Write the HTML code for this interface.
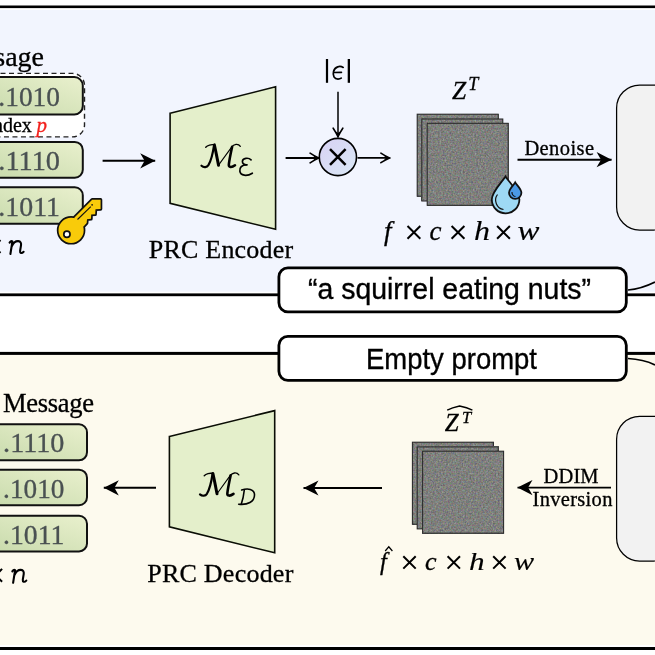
<!DOCTYPE html>
<html><head><meta charset="utf-8">
<style>
html,body{margin:0;padding:0;background:#fff;width:655px;height:655px;overflow:hidden}
svg{display:block;will-change:transform}
.serif{font-family:"Liberation Serif",serif;stroke:#000;stroke-width:0.3px}
.sans{font-family:"Liberation Sans",sans-serif}
</style></head><body>
<svg width="655" height="655" viewBox="0 0 655 655">
<defs>
 <linearGradient id="gbox" x1="0" y1="1" x2="1" y2="0">
  <stop offset="0" stop-color="#c6d9aa"/>
  <stop offset="1" stop-color="#e9f0cd"/>
 </linearGradient>
 <linearGradient id="circ" x1="0" y1="0" x2="1" y2="1">
  <stop offset="0" stop-color="#d8d1f4"/>
  <stop offset="1" stop-color="#dae9f6"/>
 </linearGradient>
 <filter id="noise" x="0" y="0" width="100%" height="100%" filterUnits="objectBoundingBox" color-interpolation-filters="sRGB">
  <feTurbulence type="fractalNoise" baseFrequency="0.6" numOctaves="2" seed="5" result="t"/>
  <feColorMatrix in="t" type="matrix" values="0.34 0.08 0.08 0 0.245  0.08 0.34 0.08 0 0.25  0.08 0.08 0.34 0 0.24  0 0 0 0 1"/>
  <feGaussianBlur stdDeviation="0.45"/>
 </filter>
 <marker id="st" viewBox="-16 -8 17 16" refX="0" refY="0" markerWidth="17" markerHeight="16" orient="auto" markerUnits="userSpaceOnUse">
  <path d="M0,0 L-15,-7.6 L-10.6,0 L-15,7.6 z" fill="#000"/>
 </marker>
 <marker id="to" viewBox="-11 -6 12 12" refX="0" refY="0" markerWidth="12" markerHeight="12" orient="auto" markerUnits="userSpaceOnUse">
  <path d="M-8.6,-4.8 Q-3.8,-1.6 0,0 Q-3.8,1.6 -8.6,4.8" fill="none" stroke="#000" stroke-width="1.6" stroke-linecap="round"/>
  <path d="M0.3,0 L-5.6,-2.7 L-3.8,0 L-5.6,2.7 z" fill="#000"/>
 </marker>

</defs>

<!-- panels -->
<rect x="0" y="10" width="655" height="281.7" fill="#f2f5fe"/>
<rect x="0" y="355" width="655" height="290" fill="#fdfaee"/>
<rect x="0" y="5.5" width="655" height="2.6" fill="#000"/>
<rect x="0" y="293.4" width="655" height="2.8" fill="#000"/>
<rect x="0" y="351.9" width="655" height="3" fill="#000"/>
<rect x="0" y="647" width="655" height="3" fill="#000"/>

<!-- ===== TOP PANEL ===== -->
<text x="44" y="65.5" class="serif" font-size="28" text-anchor="end" fill="#000">Message</text>
<!-- dashed box -->
<rect x="-20" y="73.4" width="104.5" height="63.5" rx="12" fill="#fff" stroke="#222" stroke-width="1.4" stroke-dasharray="5,3.5"/>
<!-- green boxes -->
<rect x="-20" y="77.1" width="102.8" height="37.4" rx="8.5" fill="url(#gbox)" stroke="#111" stroke-width="2"/>
<rect x="-20" y="141.9" width="102.8" height="35.8" rx="8" fill="url(#gbox)" stroke="#111" stroke-width="2"/>
<rect x="-20" y="187.3" width="102.8" height="36.4" rx="8" fill="url(#gbox)" stroke="#111" stroke-width="2"/>
<g class="serif" font-size="26.5" fill="#4a5152" text-anchor="end" style="stroke:#4a5152">
 <text x="60" y="105.5" textLength="61.7" lengthAdjust="spacingAndGlyphs">.1010</text>
 <text x="60" y="169.5" textLength="61.7" lengthAdjust="spacingAndGlyphs">.1110</text>
 <text x="60" y="215.8" textLength="61.7" lengthAdjust="spacingAndGlyphs">.1011</text>
</g>
<text x="31.8" y="131.8" class="serif" font-size="20" fill="#000" text-anchor="end">index</text>
<text x="36.5" y="131.8" class="serif" font-size="21" font-style="italic" fill="#f2201c" style="stroke:#f2201c">p</text>
<path d="M9.6,242.6 C10.4,241.4 11.6,240.8 12.4,241.3 L10.4,254 M11.8,246.2 C13.4,242.6 15.8,241 18.2,241.1 C20.6,241.3 21.4,243 21,245.4 L20.1,250.8 C19.8,253 21.6,253.9 23.6,251.8" fill="none" stroke="#000" stroke-width="2.1" stroke-linecap="round" stroke-linejoin="round"/>
<path d="M-12.3,240.1 L0.5,252.9 M0.5,240.1 L-12.3,252.9" stroke="#000" stroke-width="2"/>

<!-- key -->
<g>
 <path d="M58.5,230.3 A12.6,12.6 0 1 1 83.7,230.3 A12.6,12.6 0 1 1 58.5,230.3 Z M74.5,217.5 L92.2,199.8 L100.6,199.8 L100.6,209 L95.5,209.3 L95.2,214.3 L91.2,214.6 L91,218.8 L87,219.2 L86.7,223 L83,227 L72,228 z" stroke="#111" stroke-width="3.4" stroke-linejoin="round" fill="#111"/>
 <path d="M58.5,230.3 A12.6,12.6 0 1 1 83.7,230.3 A12.6,12.6 0 1 1 58.5,230.3 Z M74.5,217.5 L92.2,199.8 L100.6,199.8 L100.6,209 L95.5,209.3 L95.2,214.3 L91.2,214.6 L91,218.8 L87,219.2 L86.7,223 L83,227 L72,228 z" fill="#f9cb0a"/>
 <circle cx="66.9" cy="234.2" r="3.1" fill="#fff" stroke="#111" stroke-width="1.7"/>
 <path d="M77.5,219.5 L90.8,206.6" stroke="#111" stroke-width="1.1"/>
 <circle cx="92.1" cy="204.8" r="0.85" fill="#111"/>
</g>

<!-- arrow to encoder -->
<line x1="102.6" y1="160.8" x2="155.2" y2="160.8" stroke="#000" stroke-width="1.9" marker-end="url(#st)"/>

<!-- encoder -->
<polygon points="170.1,113.2 275.6,86.8 275.6,229.3 170.1,203.3" fill="#e4efcb" stroke="#0a0d05" stroke-width="1.6"/>
<g transform="translate(196.5,136.4) scale(0.0992)" fill="none" stroke="#000" stroke-linecap="round">
  <path d="M93,109 C110,90 150,78 177,85" stroke-width="14"/>
  <path d="M177,88 C168,150 150,240 120,290 C105,312 75,318 50,296" stroke-width="22"/>
  <path d="M180,85 C195,150 210,230 222,290" stroke-width="30"/>
  <path d="M222,290 L356,105" stroke-width="11"/>
  <path d="M359,105 C345,170 330,240 326,285 C324,312 352,318 388,291" stroke-width="26"/>
  <path d="M356,106 C375,78 420,68 442,100" stroke-width="13"/>
 </g>
<g transform="translate(195,135) scale(0.0992)" fill="none" stroke="#000" stroke-linecap="round" stroke-width="17">
 <path d="M565,250 C540,225 480,230 478,265 C476,290 500,302 522,300"/>
 <path d="M522,300 C470,300 448,330 452,365 C458,410 522,420 578,385"/>
</g>
<text x="148.8" y="258" class="serif" font-size="26" fill="#000" textLength="144.4">PRC Encoder</text>

<!-- epsilon & multiply -->
<rect x="325.9" y="59" width="2.2" height="23.8" fill="#000"/>
<rect x="347.7" y="59" width="2.3" height="23.8" fill="#000"/>
<path d="M343.2,67.4 C340,65.6 335,66.3 333.6,71.3 C332.4,75.8 334.3,79 338,79 C339.4,79 340.5,78.6 341.2,78.1 M333.8,72.5 L341.4,72.3" fill="none" stroke="#000" stroke-width="1.75" stroke-linecap="round"/>
<line x1="338" y1="91.7" x2="338" y2="136.8" stroke="#000" stroke-width="1.5" marker-end="url(#to)"/>
<line x1="285.6" y1="158" x2="318.7" y2="158" stroke="#000" stroke-width="1.8" marker-end="url(#to)"/>
<line x1="357.5" y1="157.9" x2="389.5" y2="157.9" stroke="#000" stroke-width="1.9" marker-end="url(#to)"/>
<circle cx="337.9" cy="157" r="18.6" fill="url(#circ)" stroke="#000" stroke-width="1.6"/>
<path d="M330,149.2 L345.6,164.8 M345.6,149.2 L330,164.8" stroke="#000" stroke-width="2.5"/>

<!-- Z^T -->
<text x="452" y="99" class="serif" font-size="25.5" font-style="italic" fill="#000">Z</text>
<text x="468.3" y="90" class="serif" font-size="18.2" font-style="italic" fill="#000">T</text>
<!-- noise squares -->
<rect x="417.2" y="114.2" width="81" height="82" fill="#fff" filter="url(#noise)"/>
<rect x="417.2" y="114.2" width="81" height="82" fill="none" stroke="#2a2a2a" stroke-width="1.05"/>
<rect x="421.8" y="119" width="81" height="82" fill="#fff" filter="url(#noise)"/>
<rect x="421.8" y="119" width="81" height="82" fill="none" stroke="#2a2a2a" stroke-width="1.05"/>
<rect x="427.2" y="123.3" width="81" height="82" fill="#fff" filter="url(#noise)"/>
<rect x="427.2" y="123.3" width="81" height="82" fill="none" stroke="#2a2a2a" stroke-width="1.05"/>
<!-- drops -->
<path d="M505.5,176.5 C509,182 519.4,192 519.4,199.5 A13.8,13.8 0 0 1 491.8,199.5 C491.8,192 502,182 505.5,176.5 z" fill="#9ed9f4" stroke="#111" stroke-width="1.8"/>
<path d="M497.5,194.5 A9.5,9.5 0 0 0 503.5,209.5" fill="none" stroke="#111" stroke-width="1.2"/>
<path d="M515.2,182.4 C517,185.5 521.4,189 521.4,192.7 A6.2,6.2 0 0 1 509,192.7 C509,189 513.4,185.5 515.2,182.4 z" fill="#4b9ae6" stroke="#111" stroke-width="1.8"/>
<path d="M512,192 A4,4 0 0 0 515.5,196.5" fill="none" stroke="#111" stroke-width="1.1"/>

<g class="serif" font-size="27" font-style="italic" fill="#000">
 <text x="384" y="240">f</text>
 <text x="429.5" y="240">c</text>
 <text x="474" y="240" textLength="16" lengthAdjust="spacingAndGlyphs" style="stroke-width:0.15px">h</text>
 <text x="517.5" y="240" textLength="22" lengthAdjust="spacingAndGlyphs" style="stroke-width:0.15px">w</text>
</g>
<g stroke="#000" stroke-width="2" fill="none">
 <path d="M407.5,226 L420.3,238.8 M420.3,226 L407.5,238.8"/>
 <path d="M451.6,226 L464.4,238.8 M464.4,226 L451.6,238.8"/>
 <path d="M497.1,226 L509.9,238.8 M509.9,226 L497.1,238.8"/>
</g>

<!-- denoise -->
<text x="524.4" y="154.9" class="serif" font-size="20.5" fill="#000" textLength="69.6">Denoise</text>
<line x1="517.5" y1="159.7" x2="611.6" y2="159.7" stroke="#000" stroke-width="1.9" marker-end="url(#st)"/>

<!-- right gray box top -->
<rect x="616.6" y="85" width="60" height="145" rx="23" fill="#f2f2f2" stroke="#000" stroke-width="1.25"/>

<!-- prompt boxes -->
<path d="M628,290 C640,289 648,285.5 655,282" fill="none" stroke="#000" stroke-width="1.7"/>
<path d="M628,358.5 C640,359 648,361.5 655,365" fill="none" stroke="#000" stroke-width="1.7"/>
<rect x="278.9" y="267.8" width="347.4" height="44" rx="9" fill="#fff" stroke="#000" stroke-width="2.8"/>
<rect x="278.9" y="336.3" width="347.4" height="44" rx="9" fill="#fff" stroke="#000" stroke-width="2.8"/>
<text x="308" y="299.4" class="sans" font-size="29.4" fill="#000" stroke="#000" stroke-width="0.35" textLength="283" lengthAdjust="spacingAndGlyphs">“a squirrel eating nuts”</text>
<text x="366" y="368.7" class="sans" font-size="29.4" fill="#000" stroke="#000" stroke-width="0.35" textLength="171" lengthAdjust="spacingAndGlyphs">Empty prompt</text>

<!-- ===== BOTTOM PANEL ===== -->
<text x="3" y="412.2" class="serif" font-size="26.5" fill="#000" textLength="91">Message</text>
<rect x="-20" y="424.3" width="107" height="36" rx="8" fill="url(#gbox)" stroke="#111" stroke-width="2"/>
<rect x="-20" y="469.7" width="107" height="35.5" rx="8" fill="url(#gbox)" stroke="#111" stroke-width="2"/>
<rect x="-20" y="515.8" width="107" height="35.6" rx="8" fill="url(#gbox)" stroke="#111" stroke-width="2"/>
<g class="serif" font-size="26.5" fill="#4a5152" text-anchor="end" style="stroke:#4a5152">
 <text x="64.4" y="452" textLength="61.3" lengthAdjust="spacingAndGlyphs">.1110</text>
 <text x="64.4" y="497.9" textLength="61.3" lengthAdjust="spacingAndGlyphs">.1010</text>
 <text x="64.4" y="543.6" textLength="61.3" lengthAdjust="spacingAndGlyphs">.1011</text>
</g>
<path d="M9.6,242.6 C10.4,241.4 11.6,240.8 12.4,241.3 L10.4,254 M11.8,246.2 C13.4,242.6 15.8,241 18.2,241.1 C20.6,241.3 21.4,243 21,245.4 L20.1,250.8 C19.8,253 21.6,253.9 23.6,251.8" transform="translate(2.7,328.8)" fill="none" stroke="#000" stroke-width="2.1" stroke-linecap="round" stroke-linejoin="round"/>
<path d="M-10.7,568.9 L2.1,581.7 M2.1,568.9 L-10.7,581.7" stroke="#000" stroke-width="2"/>

<line x1="156" y1="487.8" x2="103.8" y2="487.8" stroke="#000" stroke-width="1.9" marker-end="url(#st)"/>

<polygon points="169.4,436.5 274.7,410.6 274.7,552.8 169.4,526.9" fill="#e4efcb" stroke="#0a0d05" stroke-width="1.6"/>
<g transform="translate(195,465) scale(0.0992)" fill="none" stroke="#000" stroke-linecap="round">
  <path d="M93,109 C110,90 150,78 177,85" stroke-width="14"/>
  <path d="M177,88 C168,150 150,240 120,290 C105,312 75,318 50,296" stroke-width="22"/>
  <path d="M180,85 C195,150 210,230 222,290" stroke-width="30"/>
  <path d="M222,290 L356,105" stroke-width="11"/>
  <path d="M359,105 C345,170 330,240 326,285 C324,312 352,318 388,291" stroke-width="26"/>
  <path d="M356,106 C375,78 420,68 442,100" stroke-width="13"/>
 </g>
<g transform="translate(195,465) scale(0.0992)" fill="none" stroke="#000" stroke-linecap="round">
 <path d="M470,252 C530,232 600,240 600,300 C600,372 530,405 440,395" stroke-width="16"/>
 <path d="M497,252 C492,300 482,350 466,395" stroke-width="16"/>
</g>
<text x="147.3" y="581.7" class="serif" font-size="26" fill="#000" textLength="146">PRC Decoder</text>

<line x1="382" y1="488" x2="303.5" y2="488" stroke="#000" stroke-width="1.9" marker-end="url(#st)"/>

<!-- Zhat -->
<text x="444.8" y="431.3" class="serif" font-size="25" font-style="italic" fill="#000">Z</text>
<text x="462" y="422.9" class="serif" font-size="16.6" font-style="italic" fill="#000">T</text>
<path d="M447.2,410.2 Q452,407.6 459.6,406 Q467,407.6 472.4,410.2" fill="none" stroke="#000" stroke-width="1.35" stroke-linejoin="round"/>
<rect x="412.4" y="442.2" width="81" height="82" fill="#fff" filter="url(#noise)"/>
<rect x="412.4" y="442.2" width="81" height="82" fill="none" stroke="#2a2a2a" stroke-width="1.05"/>
<rect x="417.2" y="446.9" width="81" height="82" fill="#fff" filter="url(#noise)"/>
<rect x="417.2" y="446.9" width="81" height="82" fill="none" stroke="#2a2a2a" stroke-width="1.05"/>
<rect x="422.6" y="451.2" width="81" height="82" fill="#fff" filter="url(#noise)"/>
<rect x="422.6" y="451.2" width="81" height="82" fill="none" stroke="#2a2a2a" stroke-width="1.05"/>

<g class="serif" font-size="26" font-style="italic" fill="#000">
 <text x="380" y="570" font-size="24.5">f</text>
 <text x="425" y="569.5">c</text>
 <text x="469" y="569.5" textLength="15.6" lengthAdjust="spacingAndGlyphs" style="stroke-width:0.15px">h</text>
 <text x="514" y="569.5" textLength="20.1" lengthAdjust="spacingAndGlyphs" style="stroke-width:0.15px">w</text>
</g>
<path d="M385.2,551 L388.8,546.8 L392.4,551" fill="none" stroke="#000" stroke-width="1.25"/>
<g stroke="#000" stroke-width="2" fill="none">
 <path d="M403.3,556.2 L415.7,568.6 M415.7,556.2 L403.3,568.6"/>
 <path d="M447.6,556.2 L460,568.6 M460,556.2 L447.6,568.6"/>
 <path d="M493.2,556.2 L505.6,568.6 M505.6,556.2 L493.2,568.6"/>
</g>

<text x="543.6" y="482.7" class="serif" font-size="20.5" fill="#000" textLength="55">DDIM</text>
<text x="532.6" y="505.5" class="serif" font-size="20.5" fill="#000" textLength="79.8">Inversion</text>
<line x1="611" y1="487.6" x2="517.5" y2="487.6" stroke="#000" stroke-width="1.9" marker-end="url(#st)"/>

<rect x="616.6" y="416.3" width="60" height="144.7" rx="23" fill="#f2f2f2" stroke="#000" stroke-width="1.25"/>
</svg>
</body></html>
